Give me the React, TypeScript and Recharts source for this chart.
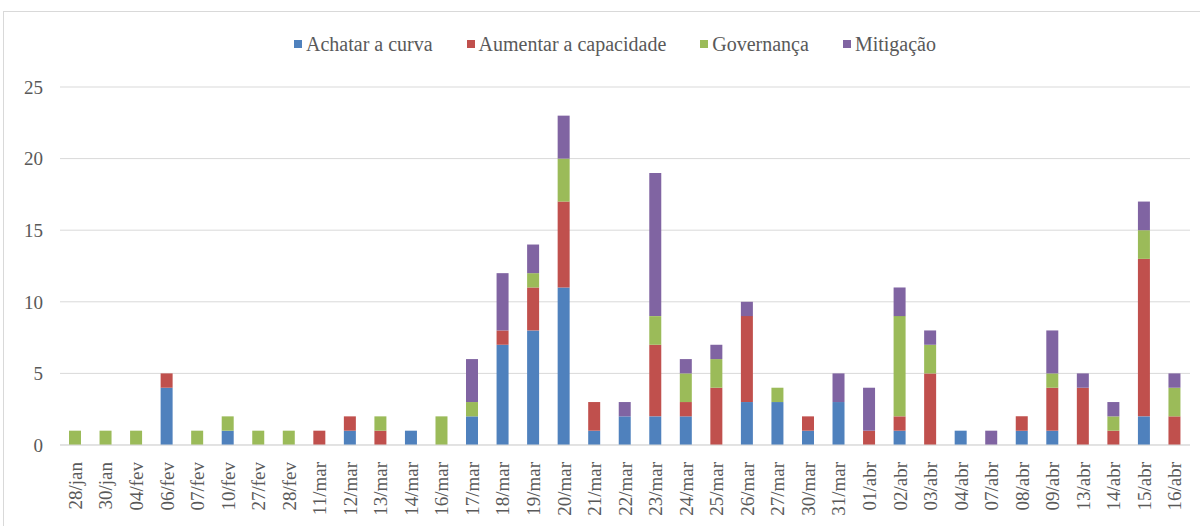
import React from 'react';
import { BarChart, Bar, XAxis, YAxis, CartesianGrid, Legend } from 'recharts';

const categories = [
  '28/jan', '30/jan', '04/fev', '06/fev', '07/fev', '10/fev', '27/fev', '28/fev',
  '11/mar', '12/mar', '13/mar', '14/mar', '16/mar', '17/mar', '18/mar', '19/mar',
  '20/mar', '21/mar', '22/mar', '23/mar', '24/mar', '25/mar', '26/mar', '27/mar',
  '30/mar', '31/mar', '01/abr', '02/abr', '03/abr', '04/abr', '07/abr', '08/abr',
  '09/abr', '13/abr', '14/abr', '15/abr', '16/abr',
];

const achatar = [0, 0, 0, 4, 0, 1, 0, 0, 0, 1, 0, 1, 0, 2, 7, 8, 11, 1, 2, 2, 2, 0, 3, 3, 1, 3, 0, 1, 0, 1, 0, 1, 1, 0, 0, 2, 0];
const aumentar = [0, 0, 0, 1, 0, 0, 0, 0, 1, 1, 1, 0, 0, 0, 1, 3, 6, 2, 0, 5, 1, 4, 6, 0, 1, 0, 1, 1, 5, 0, 0, 1, 3, 4, 1, 11, 2];
const governanca = [1, 1, 1, 0, 1, 1, 1, 1, 0, 0, 1, 0, 2, 1, 0, 1, 3, 0, 0, 2, 2, 2, 0, 1, 0, 0, 0, 7, 2, 0, 0, 0, 1, 0, 1, 2, 2];
const mitigacao = [0, 0, 0, 0, 0, 0, 0, 0, 0, 0, 0, 0, 0, 3, 4, 2, 3, 0, 1, 10, 1, 1, 1, 0, 0, 2, 3, 2, 1, 0, 1, 0, 3, 1, 1, 2, 1];

const yTicks = [0, 5, 10, 15, 20, 25];

const series = [
  { key: 'achatar', name: 'Achatar a curva', color: '#4F81BD' },
  { key: 'aumentar', name: 'Aumentar a capacidade', color: '#C0504D' },
  { key: 'governanca', name: 'Governança', color: '#9BBB59' },
  { key: 'mitigacao', name: 'Mitigação', color: '#8064A2' },
];

const data = categories.map((c, i) => ({
  date: c,
  achatar: achatar[i],
  aumentar: aumentar[i],
  governanca: governanca[i],
  mitigacao: mitigacao[i],
}));

const FONT = "'Liberation Serif', 'DejaVu Serif', serif";

const DateTick = (props: any) => {
  const { x, y, payload } = props;
  return (
    <text
      x={0}
      y={0}
      dy="0.35em"
      transform={`translate(${x},${y + 9}) rotate(-90)`}
      textAnchor="end"
      fill="#595959"
      fontSize={19}
      style={{ fontFamily: FONT }}
    >
      {payload.value}
    </text>
  );
};

const LegendContent = () => (
  <div style={{ display: 'flex', justifyContent: 'center', fontFamily: FONT, fontSize: 20, color: '#595959', lineHeight: '22px' }}>
    {series.map((s, i) => (
      <span key={s.key} style={{ display: 'flex', alignItems: 'center', marginRight: i < series.length - 1 ? 34 : 0 }}>
        <span style={{ width: 8, height: 8, background: s.color, marginRight: 4, display: 'inline-block' }} />
        {s.name}
      </span>
    ))}
  </div>
);

export default function App() {
  return (
    <div style={{ position: 'absolute', left: 0, top: 0, width: 1200, height: 526, background: '#fff', overflow: 'hidden' }}>
      <div style={{ position: 'absolute', left: 3, top: 11, width: 1220, height: 540, border: '1px solid #d9d9d9' }} />
      <div style={{ position: 'absolute', left: 0, top: 0 }}>
        <BarChart
          width={1200}
          height={526}
          data={data}
          margin={{ top: 65, right: 10, bottom: 0, left: 0 }}
          barSize={12}
        >
          <CartesianGrid vertical={false} stroke="#d9d9d9" />
          <XAxis
            dataKey="date"
            interval={0}
            height={81}
            tick={<DateTick />}
            tickLine={false}
            axisLine={{ stroke: '#d9d9d9' }}
          />
          <YAxis
            width={60}
            domain={[0, 25]}
            ticks={yTicks}
            tickLine={false}
            axisLine={false}
            tickSize={0}
            tickMargin={17}
            tick={{ fill: '#595959', fontSize: 19, style: { fontFamily: FONT } }}
          />
          <Legend verticalAlign="top" content={<LegendContent />} wrapperStyle={{ top: 33, left: 0, width: 1230 }} />
          {series.map((s) => (
            <Bar key={s.key} dataKey={s.key} name={s.name} stackId="a" fill={s.color} isAnimationActive={false} />
          ))}
        </BarChart>
      </div>
    </div>
  );
}
